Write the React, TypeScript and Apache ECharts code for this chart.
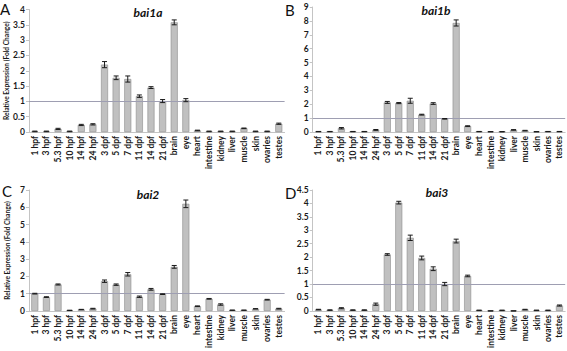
import React, { useEffect, useRef } from "react";
import * as echarts from "echarts";

const categories = ["1 hpf", "3 hpf", "5.3 hpf", "10 hpf", "14 hpf", "24 hpf", "3 dpf", "5 dpf", "7 dpf", "11 dpf", "14 dpf", "21 dpf", "brain", "eye", "heart", "intestine", "kidney", "liver", "muscle", "skin", "ovaries", "testes"];

const bai1aValues = [0.02, 0.02, 0.1, 0.02, 0.23, 0.25, 2.2, 1.77, 1.73, 1.17, 1.45, 1.01, 3.58, 1.04, 0.05, 0.02, 0.02, 0.02, 0.12, 0.02, 0.02, 0.27];
const bai1aErrors = [0.01, 0.01, 0.02, 0.01, 0.02, 0.02, 0.1, 0.06, 0.1, 0.04, 0.03, 0.05, 0.08, 0.05, 0.01, 0.01, 0.01, 0.01, 0.01, 0.01, 0.01, 0.02];

const bai1bValues = [0.03, 0.03, 0.27, 0.03, 0.03, 0.15, 2.13, 2.08, 2.25, 1.25, 2.05, 0.95, 7.85, 0.42, 0.03, 0.02, 0.02, 0.15, 0.1, 0.02, 0.03, 0.03];
const bai1bErrors = [0.01, 0.01, 0.05, 0.01, 0.01, 0.03, 0.07, 0.04, 0.18, 0.03, 0.06, 0.02, 0.22, 0.03, 0.01, 0.01, 0.01, 0.02, 0.02, 0.01, 0.01, 0.01];

const bai2Values = [1.0, 0.8, 1.53, 0.03, 0.08, 0.13, 1.72, 1.52, 2.12, 0.82, 1.25, 0.97, 2.55, 6.2, 0.27, 0.7, 0.37, 0.04, 0.04, 0.12, 0.65, 0.13];
const bai2Errors = [0.02, 0.02, 0.03, 0.01, 0.01, 0.02, 0.07, 0.04, 0.1, 0.04, 0.05, 0.02, 0.08, 0.22, 0.02, 0.02, 0.04, 0.01, 0.01, 0.01, 0.02, 0.02];

const bai3Values = [0.05, 0.03, 0.1, 0.03, 0.03, 0.25, 2.1, 4.03, 2.72, 1.97, 1.57, 1.0, 2.6, 1.3, 0.02, 0.0, 0.02, 0.0, 0.05, 0.02, 0.02, 0.2];
const bai3Errors = [0.01, 0.01, 0.02, 0.01, 0.01, 0.04, 0.03, 0.05, 0.1, 0.07, 0.07, 0.06, 0.07, 0.03, 0.01, 0, 0.01, 0, 0.01, 0.01, 0.01, 0.02];

const panelTitles = ["bai1a", "bai1b", "bai2", "bai3"];
const panelLetters = ["A", "B", "C", "D"];
const yMax = [4, 9, 7, 4.5];
const yInterval = [0.5, 1, 1, 0.5];
const yAxisName = "Relative Expression (Fold Change)";
const referenceLevel = 1;

const panelValues = [bai1aValues, bai1bValues, bai2Values, bai3Values];
const panelErrors = [bai1aErrors, bai1bErrors, bai2Errors, bai3Errors];

const FONT = "Lato, 'Noto Sans', sans-serif";

export default function App() {
  const ref = useRef<HTMLDivElement>(null);
  useEffect(() => {
    if (!ref.current) return;
    const chart = echarts.init(ref.current, null, { renderer: "svg" });

    const grids = [
      { left: 29, top: 9.5, width: 255.6, height: 122.5 },
      { left: 312.7, top: 7, width: 252.5, height: 125 },
      { left: 29, top: 190, width: 255.6, height: 125 },
      { left: 312.7, top: 190, width: 252.5, height: 123 },
    ];
    const titlePos = [
      { x: 148, y: 12 },
      { x: 436, y: 10 },
      { x: 148, y: 194 },
      { x: 437, y: 192 },
    ];
    const letterPos = [
      { x: 0, y: 1 },
      { x: 285, y: 2 },
      { x: 2, y: 183 },
      { x: 285, y: 185 },
    ];

    const xAxes = grids.map((_, i) => ({
      type: "category",
      gridIndex: i,
      data: categories,
      axisLine: { show: true, lineStyle: { color: "#c4c4c4", width: 1 } },
      axisTick: { show: false },
      axisLabel: {
        interval: 0,
        rotate: 90,
        fontSize: 8.5,
        fontFamily: FONT,
        fontWeight: "bold",
        color: "#1a1a1a",
        margin: 4,
      },
    }));

    const yAxes = grids.map((_, i) => ({
      type: "value",
      gridIndex: i,
      min: 0,
      max: yMax[i],
      interval: yInterval[i],
      name: i % 2 === 0 ? yAxisName : "",
      nameLocation: "middle",
      nameGap: 19,
      nameTextStyle: { fontSize: 6.6, fontFamily: FONT, fontWeight: "bold", color: "#1a1a1a" },
      axisLine: { show: true, lineStyle: { color: "#c4c4c4", width: 1 } },
      axisTick: { show: true, length: 3, lineStyle: { color: "#c4c4c4" } },
      splitLine: { show: false },
      axisLabel: { fontSize: 8.5, fontFamily: FONT, fontWeight: "bold", color: "#1a1a1a", margin: 4 },
    }));

    const series: any[] = [];
    panelValues.forEach((vals, i) => {
      series.push({
        type: "bar",
        xAxisIndex: i,
        yAxisIndex: i,
        data: vals,
        barWidth: 7,
        itemStyle: { color: "#c0c0c0", borderColor: "#8c8c8c", borderWidth: 0.6 },
        markLine: {
          silent: true,
          symbol: "none",
          label: { show: false },
          lineStyle: { color: "#9e9eb2", width: 1, type: "solid" },
          data: [{ yAxis: referenceLevel }],
        },
      });
      const errs = panelErrors[i];
      series.push({
        type: "custom",
        xAxisIndex: i,
        yAxisIndex: i,
        data: vals.map((v, k) => [k, Math.max(0, v - errs[k]), v + errs[k]]),
        z: 5,
        renderItem: (params: any, api: any) => {
          const x = api.value(0);
          const lo = api.coord([x, api.value(1)]);
          const hi = api.coord([x, api.value(2)]);
          const hw = 2.5;
          const st = { stroke: "#1a1a1a", lineWidth: 1 };
          return {
            type: "group",
            children: [
              { type: "line", shape: { x1: lo[0], y1: lo[1], x2: hi[0], y2: hi[1] }, style: st },
              { type: "line", shape: { x1: hi[0] - hw, y1: hi[1], x2: hi[0] + hw, y2: hi[1] }, style: st },
              { type: "line", shape: { x1: lo[0] - hw, y1: lo[1], x2: lo[0] + hw, y2: lo[1] }, style: st },
            ],
          };
        },
      });
    });

    const graphics: any[] = [];
    panelTitles.forEach((t, i) => {
      graphics.push({
        type: "text",
        x: titlePos[i].x,
        y: titlePos[i].y,
        style: {
          text: t,
          fontSize: 12,
          fontWeight: "bold",
          fontStyle: "italic",
          fontFamily: FONT,
          fill: "#111",
          align: "center",
          verticalAlign: "middle",
        },
      });
      graphics.push({
        type: "text",
        x: letterPos[i].x,
        y: letterPos[i].y,
        style: {
          text: panelLetters[i],
          fontSize: 15,
          fontFamily: FONT,
          fill: "#111",
          align: "left",
          verticalAlign: "top",
        },
      });
    });

    chart.setOption({
      animation: false,
      backgroundColor: "#ffffff",
      grid: grids.map((g) => ({ ...g, containLabel: false })),
      xAxis: xAxes,
      yAxis: yAxes,
      series,
      graphic: graphics,
    });
    return () => chart.dispose();
  }, []);
  return (
    <div
      ref={ref}
      style={{ position: "fixed", left: 0, top: 0, width: 567, height: 351, background: "#fff" }}
    />
  );
}
